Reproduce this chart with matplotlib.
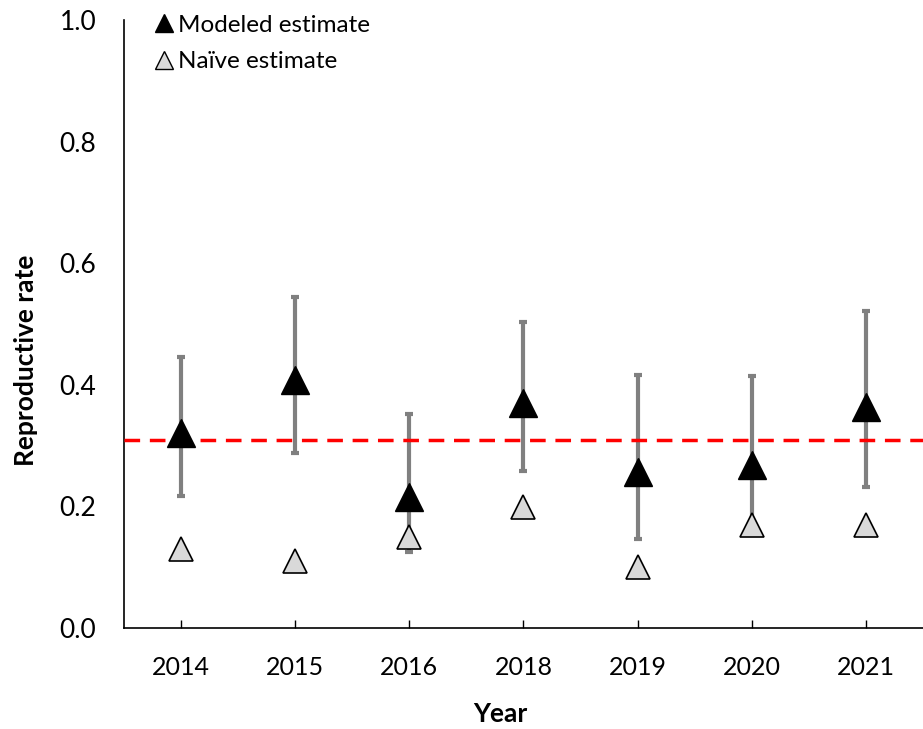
import matplotlib.pyplot as plt
from matplotlib.lines import Line2D

plt.rcParams['font.family'] = ['Lato', 'DejaVu Sans']

years = ["2014", "2015", "2016", "2018", "2019", "2020", "2021"]
modeled = [0.320, 0.408, 0.215, 0.370, 0.257, 0.268, 0.363]
upper = [0.446, 0.544, 0.352, 0.503, 0.416, 0.414, 0.521]
lower = [0.217, 0.288, 0.125, 0.258, 0.146, 0.170, 0.232]
naive = [0.130, 0.110, 0.150, 0.199, 0.100, 0.169, 0.169]
ref_rate = 0.31

x = list(range(len(years)))
err_lo = [m - l for m, l in zip(modeled, lower)]
err_hi = [u - m for u, m in zip(upper, modeled)]

fig = plt.figure(figsize=(9.23, 7.29), dpi=100)
ax = fig.add_axes([0.1343, 0.1385, 0.8657, 0.8341])

ax.errorbar(x, modeled, yerr=[err_lo, err_hi], fmt='none', ecolor='#808080',
            elinewidth=3, capsize=3, capthick=3, zorder=2)
ax.axhline(ref_rate, color='#FF0000', linewidth=2.5, dashes=(4.5, 2.8), zorder=3)
ax.plot(x, modeled, linestyle='none', marker='^', markersize=20,
        color='black', zorder=4)
ax.plot(x, naive, linestyle='none', marker='^', markersize=17,
        markerfacecolor='#D9D9D9', markeredgecolor='black',
        markeredgewidth=1.2, zorder=4)

ax.set_xlim(-0.5, len(years) - 0.5)
ax.set_ylim(0, 1.0)
ax.set_xticks(x)
ax.set_xticklabels(years)
ax.set_yticks([0, 0.2, 0.4, 0.6, 0.8, 1.0])
ax.set_yticklabels([f"{v:.1f}" for v in [0, 0.2, 0.4, 0.6, 0.8, 1.0]])
ax.tick_params(axis='x', direction='in', length=6, width=1, pad=20, labelsize=18)
ax.tick_params(axis='y', length=0, pad=20, labelsize=19)

for s in ['top', 'right']:
    ax.spines[s].set_visible(False)
ax.spines['left'].set_linewidth(1.2)
ax.spines['bottom'].set_linewidth(1.2)

ax.set_xlabel("Year", fontsize=19, fontweight='bold')
ax.set_ylabel("Reproductive rate", fontsize=19, fontweight='bold')
ax.xaxis.set_label_coords(0.4706, -0.121)
ax.yaxis.set_label_coords(-0.108, 0.441)

handles = [
    Line2D([], [], linestyle='none', marker='^', markersize=13, color='black'),
    Line2D([], [], linestyle='none', marker='^', markersize=13,
           markerfacecolor='#D9D9D9', markeredgecolor='black', markeredgewidth=1),
]
ax.legend(handles, ["Modeled estimate", "Naïve estimate"], loc='upper left',
          bbox_to_anchor=(0.01, 1.045), frameon=False, fontsize=17.5,
          handlelength=0.8, handletextpad=0.2, labelspacing=0.65)

fig.savefig("out.png", dpi=100)
